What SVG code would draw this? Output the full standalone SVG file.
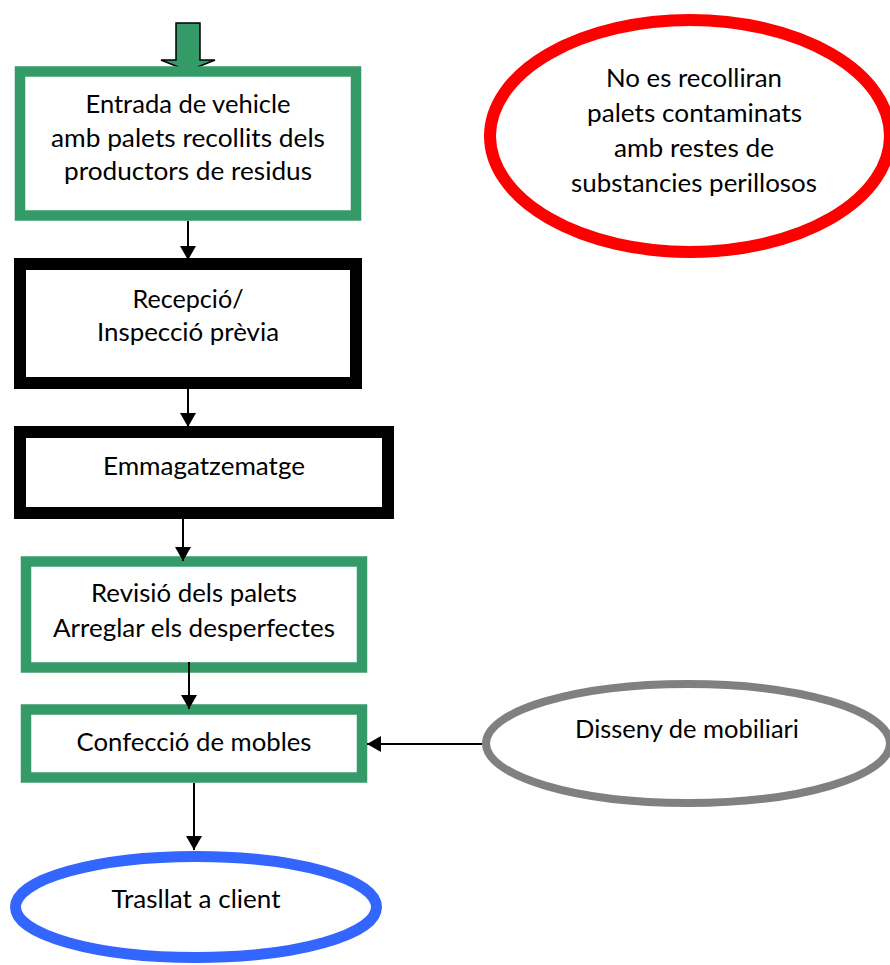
<svg xmlns="http://www.w3.org/2000/svg" width="890" height="965" viewBox="0 0 890 965">
<defs>
<style>
.t{font-family:Lato,"Liberation Sans",sans-serif;font-size:25px;fill:#000;text-anchor:middle}
.gbox{fill:#fff;stroke:#349A67;stroke-width:10.5}
.kbox{fill:#fff;stroke:#000;stroke-width:12}
.conn{stroke:#000;stroke-width:2;fill:none;marker-end:url(#ah)}
</style>
<marker id="ah" viewBox="0 0 14 16" refX="14" refY="8" markerWidth="14" markerHeight="16" markerUnits="userSpaceOnUse" orient="auto">
<path d="M0,0 L14,8 L0,16 z" fill="#000"/>
</marker>
</defs>
<rect width="890" height="965" fill="#fff"/>
<g id="entry-arrow">
<polygon points="176,23 200,23 200,60 215,60 188,71 161,60 176,60" fill="#349A67" stroke="#000" stroke-width="1.5"/>
</g>
<g id="n1">
<rect class="gbox" x="20" y="71.5" width="336" height="144"/>
<text class="t" x="188" y="113" textLength="205" lengthAdjust="spacingAndGlyphs">Entrada de vehicle</text>
<text class="t" x="188" y="147" textLength="274" lengthAdjust="spacingAndGlyphs">amb palets recollits dels</text>
<text class="t" x="188" y="180" textLength="248" lengthAdjust="spacingAndGlyphs">productors de residus</text>
</g>
<g id="n2">
<rect class="kbox" x="20" y="264" width="336" height="119"/>
<text class="t" x="188" y="308" textLength="111" lengthAdjust="spacingAndGlyphs">Recepció/</text>
<text class="t" x="188" y="341" textLength="182" lengthAdjust="spacingAndGlyphs">Inspecció prèvia</text>
</g>
<g id="n3">
<rect class="kbox" x="20" y="432" width="368" height="81"/>
<text class="t" x="204" y="475" textLength="202" lengthAdjust="spacingAndGlyphs">Emmagatzematge</text>
</g>
<g id="n4">
<rect class="gbox" x="26" y="561.5" width="336" height="106"/>
<text class="t" x="194" y="602" textLength="206" lengthAdjust="spacingAndGlyphs">Revisió dels palets</text>
<text class="t" x="194" y="637" textLength="282" lengthAdjust="spacingAndGlyphs">Arreglar els desperfectes</text>
</g>
<g id="n5">
<rect class="gbox" x="26" y="709.5" width="336" height="68"/>
<text class="t" x="194" y="751" textLength="235" lengthAdjust="spacingAndGlyphs">Confecció de mobles</text>
</g>
<g id="n6">
<ellipse cx="196" cy="907" rx="180.5" ry="50.5" fill="#fff" stroke="#3366FF" stroke-width="11"/>
<text class="t" x="196" y="908" textLength="169" lengthAdjust="spacingAndGlyphs">Trasllat a client</text>
</g>
<g id="n7">
<ellipse cx="690" cy="136" rx="200" ry="116" fill="#fff" stroke="#FF0000" stroke-width="12"/>
<text class="t" x="694" y="87" textLength="176" lengthAdjust="spacingAndGlyphs">No es recolliran</text>
<text class="t" x="694.5" y="122" textLength="215" lengthAdjust="spacingAndGlyphs">palets contaminats</text>
<text class="t" x="694" y="157" textLength="160" lengthAdjust="spacingAndGlyphs">amb restes de</text>
<text class="t" x="694" y="192" textLength="246" lengthAdjust="spacingAndGlyphs">substancies perillosos</text>
</g>
<g id="n8">
<ellipse cx="688" cy="743.5" rx="202" ry="59.5" fill="#fff" stroke="#808080" stroke-width="8"/>
<text class="t" x="687" y="738" textLength="224" lengthAdjust="spacingAndGlyphs">Disseny de mobiliari</text>
</g>
<g id="connectors">
<line class="conn" x1="188" y1="221" x2="188" y2="260"/>
<line class="conn" x1="188" y1="389" x2="188" y2="427"/>
<line class="conn" x1="183" y1="519" x2="183" y2="561"/>
<line class="conn" x1="189" y1="662" x2="189" y2="709"/>
<line class="conn" x1="194" y1="783" x2="194" y2="850"/>
<line class="conn" x1="482" y1="744" x2="367" y2="744"/>
</g>
</svg>
